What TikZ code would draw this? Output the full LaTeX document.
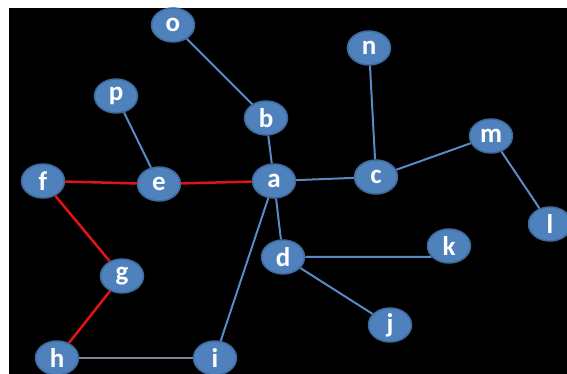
\documentclass[tikz,border=0pt]{standalone}
\usepackage{fontspec}
\setmainfont{Carlito}
\usepackage{tikz}
\usetikzlibrary{shapes.geometric}
\definecolor{nblue}{HTML}{4F81BD}
\definecolor{nrim}{HTML}{3F6A9A}
\definecolor{eblue}{HTML}{5A8AC6}
\definecolor{ered}{HTML}{E01414}
\definecolor{egray}{HTML}{7A8596}
\begin{document}
\begin{tikzpicture}[x=1pt, y=-1pt]
    \tikzset{nd/.style={
      ellipse,
      draw=nrim,
      line width=1.5pt,
      fill=nblue,
      text=white,
      minimum width=43pt,
      minimum height=34pt,
      inner sep=0pt,
      font=\fontsize{27}{28}\selectfont\bfseries},
      ed/.style={draw=eblue, line width=2pt},
      hot/.style={draw=ered, line width=2.5pt}}
    \useasboundingbox (0, 0) rectangle (567, 374);
    \clip (0, 0) rectangle (567, 374);
    \fill[white] (0, 0) rectangle (567, 374);
    \fill[black] (9, 8) rectangle (567, 374);

    \node[nd] at (173, 25) (o) {o};
    \node[nd] at (369, 48) (n) {n};
    \node[nd] at (116, 96) (p) {p};
    \node[nd] at (266, 118) (b) {b};
    \node[nd] at (491, 136) (m) {m};
    \node[nd] at (43, 181) (f) {f};
    \node[nd] at (159, 184) (e) {e};
    \node[nd] at (274, 181) (a) {a};
    \node[nd] at (376, 177) (c) {c};
    \node[nd] at (550, 224) (l) {l};
    \node[nd] at (449, 246) (k) {k};
    \node[nd] at (283, 257) (d) {d};
    \node[nd] at (122, 276) (g) {g};
    \node[nd] at (390, 325) (j) {j};
    \node[nd] at (57, 358) (h) {h};
    \node[nd] at (215, 358) (i) {i};

    \draw[ed] (o) -- (b);
    \draw[ed] (b) -- (a);
    \draw[ed] (p) -- (e);
    \draw[hot] (f) -- (e);
    \draw[hot] (e) -- (a);
    \draw[ed] (a) -- (c);
    \draw[ed] (c) -- (n);
    \draw[ed] (c) -- (m);
    \draw[ed] (m) -- (l);
    \draw[ed] (a) -- (d);
    \draw[ed] (a) -- (i);
    \draw[ed] (d) -- (k.212);
    \draw[ed] (d) -- (j);
    \draw[hot] (f) -- (g);
    \draw[hot] (g) -- (h);
    \draw[draw=egray, line width=2pt] (h) -- (i);
  \end{tikzpicture}
\end{document}
